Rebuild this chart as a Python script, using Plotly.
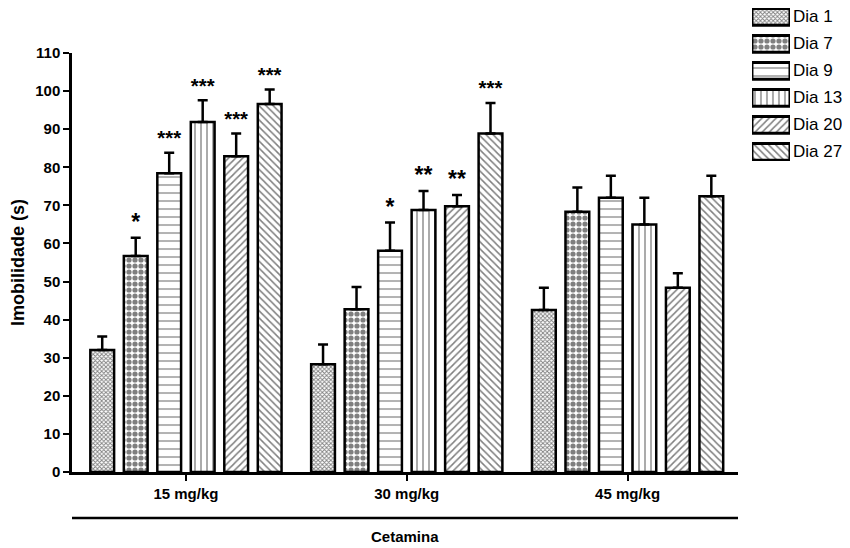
import plotly.graph_objects as go

doses = ["15 mg/kg", "30 mg/kg", "45 mg/kg"]
days = ["Dia 1", "Dia 7", "Dia 9", "Dia 13", "Dia 20", "Dia 27"]
means = {
    "Dia 1": [32, 28.3, 42.5],
    "Dia 7": [56.7, 42.7, 68.3],
    "Dia 9": [78.4, 58.1, 72.0],
    "Dia 13": [91.9, 68.8, 65.0],
    "Dia 20": [82.9, 69.8, 48.4],
    "Dia 27": [96.6, 88.9, 72.4],
}
errors = {
    "Dia 1": [3.6, 5.2, 5.9],
    "Dia 7": [4.8, 5.9, 6.4],
    "Dia 9": [5.4, 7.4, 5.8],
    "Dia 13": [5.7, 5.0, 7.0],
    "Dia 20": [6.0, 2.9, 3.8],
    "Dia 27": [3.8, 8.0, 5.4],
}
stars = {
    "Dia 1": ["", "", ""],
    "Dia 7": ["*", "", ""],
    "Dia 9": ["***", "*", ""],
    "Dia 13": ["***", "**", ""],
    "Dia 20": ["***", "**", ""],
    "Dia 27": ["***", "***", ""],
}
patterns = {
    "Dia 1": dict(shape="x", size=3, solidity=0.5),
    "Dia 7": dict(shape=".", size=6, solidity=0.6),
    "Dia 9": dict(shape="-", size=8, solidity=0.15),
    "Dia 13": dict(shape="|", size=6, solidity=0.22),
    "Dia 20": dict(shape="/", size=5, solidity=0.3),
    "Dia 27": dict(shape="\\", size=5, solidity=0.3),
}

FONT = "Liberation Sans, Arial, sans-serif"


def marker_for(d, lw=2.5):
    p = patterns[d]
    return dict(color="white", line=dict(color="black", width=lw),
                pattern=dict(shape=p["shape"], size=p["size"], solidity=p["solidity"],
                             fgcolor="black", bgcolor="white", fillmode="overlay"))


fig = go.Figure()
for i, d in enumerate(days):
    fig.add_trace(go.Bar(
        x=doses, y=means[d], name=d, offsetgroup=str(i), showlegend=False,
        marker=marker_for(d),
        error_y=dict(type="data", array=errors[d], arrayminus=[0] * 3, symmetric=False,
                     color="black", thickness=2.5, width=5),
    ))
for i, d in enumerate(days):
    tops = [m + e for m, e in zip(means[d], errors[d])]
    fig.add_trace(go.Bar(
        x=doses, y=tops, offsetgroup=str(i), showlegend=False, hoverinfo="skip",
        marker=dict(color="rgba(0,0,0,0)", line=dict(width=0)),
        text=stars[d], textposition="outside", cliponaxis=False,
        textfont=dict(family=FONT, size=23, color="black", weight="bold"),
    ))

# legend drawn as small horizontal bars on a separate axis pair
for d in days:
    fig.add_trace(go.Bar(
        x=[1], y=[d], orientation="h", xaxis="x2", yaxis="y2", width=0.62,
        marker=marker_for(d, 3), showlegend=False, hoverinfo="skip",
    ))
    fig.add_annotation(text=d, xref="x2", yref="y2", x=1, y=d, xanchor="left",
                       xshift=1, showarrow=False, font=dict(size=17, family=FONT))

fig.update_layout(
    width=850, height=548,
    paper_bgcolor="white", plot_bgcolor="white",
    barmode="group", bargap=0.09, bargroupgap=0.29,
    margin=dict(l=64, r=2, t=0, b=84, autoexpand=False),
    font=dict(family=FONT, color="black"),
    showlegend=False,
    uniformtext=dict(mode=False),
    xaxis=dict(
        domain=[0, 0.8495], anchor="y",
        range=[-0.516, 2.5], showline=True, linecolor="black", linewidth=2.5,
        ticks="outside", ticklen=6, tickwidth=2, tickcolor="black", automargin=False,
        tickfont=dict(size=15, family=FONT, weight="bold"), showgrid=False, zeroline=False,
    ),
    yaxis=dict(
        domain=[0, 0.903], anchor="x",
        range=[0, 110], dtick=10, showline=True, linecolor="black", linewidth=2.5,
        ticks="outside", ticklen=6, tickwidth=2, tickcolor="black", automargin=False,
        tickfont=dict(size=15, family=FONT, weight="bold"), showgrid=False, zeroline=False,
        title=dict(text="Imobilidade (s)", font=dict(size=18, family=FONT, weight="bold"), standoff=6),
    ),
    xaxis2=dict(domain=[0.8673, 0.9158], range=[0, 1], visible=False, anchor="y2"),
    yaxis2=dict(domain=[0.6703, 1.0], range=[5.333, -0.333], type="category",
                categoryorder="array", categoryarray=days, visible=False, anchor="x2"),
)
fig.add_shape(type="line", xref="x domain", yref="y domain", x0=0, x1=1.0, y0=-0.11, y1=-0.11,
              line=dict(color="black", width=2.5))
fig.add_annotation(text="Cetamina", xref="x domain", yref="y domain", x=0.5, y=-0.178,
                   showarrow=False, font=dict(size=15, family=FONT, weight="bold"))

fig.write_html("out.html")
